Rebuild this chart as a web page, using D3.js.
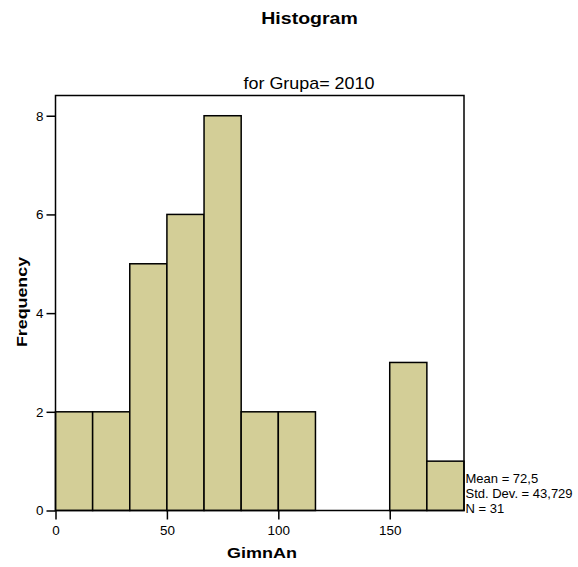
<!DOCTYPE html>
<html>
<head>
<meta charset="utf-8">
<script src="https://cdn.jsdelivr.net/npm/d3@7"></script>
<style>
  html, body { margin: 0; padding: 0; background: #fff; }
  svg { display: block; font-family: "Liberation Sans", Arial, sans-serif; }
</style>
</head>
<body>
<svg id="chart" width="578" height="567"></svg>
<script>
// Histogram of GimnAn for Grupa = 2010
const binEdges = [0, 16.667, 33.333, 50, 66.667, 83.333, 100, 116.667, 133.333, 150, 166.667, 183.333];
const binCounts = [2, 2, 5, 6, 8, 2, 2, 0, 0, 3, 1];
const xTicks = [0, 50, 100, 150];
const yTicks = [0, 2, 4, 6, 8];
const statLines = ["Mean = 72,5", "Std. Dev. = 43,729", "N = 31"];

const bins = binCounts.map((c, i) => ({ x0: binEdges[i], x1: binEdges[i + 1], count: c }));

const svg = d3.select("#chart");
const plot = { left: 55.5, right: 464, top: 95.5, bottom: 510.5 };

const x = d3.scaleLinear().domain([0, binEdges[binEdges.length - 1]]).range([plot.left, plot.right]);
const y = d3.scaleLinear().domain([0, 8.41]).range([plot.bottom, plot.top]);

// stretch text along its reading direction
function stretch(sel, tx, ty, sx, rot) {
  sel.attr("transform", `translate(${tx},${ty})` + (rot ? ` rotate(${rot})` : "") + ` scale(${sx},1)`);
  return sel;
}

// bars
svg.append("g")
  .selectAll("rect")
  .data(bins.filter(b => b.count > 0))
  .join("rect")
  .attr("x", d => x(d.x0))
  .attr("y", d => y(d.count))
  .attr("width", d => x(d.x1) - x(d.x0))
  .attr("height", d => y(0) - y(d.count))
  .attr("fill", "#d3ce97")
  .attr("stroke", "#000")
  .attr("stroke-width", 1.5);

// plot frame
svg.append("rect")
  .attr("x", plot.left).attr("y", plot.top)
  .attr("width", plot.right - plot.left).attr("height", plot.bottom - plot.top)
  .attr("fill", "none").attr("stroke", "#000").attr("stroke-width", 1.5);

// x axis
const xAxis = svg.append("g")
  .attr("transform", `translate(0,${plot.bottom})`)
  .call(d3.axisBottom(x).tickValues(xTicks).tickSize(9).tickSizeOuter(0).tickFormat(d3.format("d")));
xAxis.select(".domain").remove();
xAxis.selectAll(".tick line").attr("stroke", "#000").attr("stroke-width", 1.5);
xAxis.selectAll(".tick text").each(function () {
  const t = d3.select(this);
  t.attr("y", null).attr("dy", null).attr("fill", "#000")
    .style("font-size", "12px").style("font-family", "'Liberation Sans', Arial, sans-serif")
    .attr("text-anchor", "middle");
  stretch(t, 0, 24.5, 1.12);
});

// y axis
const yAxis = svg.append("g")
  .attr("transform", `translate(${plot.left},0)`)
  .call(d3.axisLeft(y).tickValues(yTicks).tickSize(9).tickSizeOuter(0).tickFormat(d3.format("d")));
yAxis.select(".domain").remove();
yAxis.selectAll(".tick line").attr("stroke", "#000").attr("stroke-width", 1.5);
yAxis.selectAll(".tick text").each(function () {
  const t = d3.select(this);
  t.attr("x", null).attr("dy", null).attr("fill", "#000")
    .style("font-size", "12px").style("font-family", "'Liberation Sans', Arial, sans-serif")
    .attr("text-anchor", "end");
  stretch(t, -12, 4.3, 1.12);
});

// titles
stretch(svg.append("text").text("Histogram")
  .attr("text-anchor", "middle").style("font-size", "16px").style("font-weight", "bold"),
  309.5, 24, 1.22);

stretch(svg.append("text").text("for Grupa= 2010")
  .attr("text-anchor", "middle").style("font-size", "16px"),
  309, 89, 1.12);

// axis labels
stretch(svg.append("text").text("GimnAn")
  .attr("text-anchor", "middle").style("font-size", "15px").style("font-weight", "bold"),
  262, 558, 1.2);

stretch(svg.append("text").text("Frequency")
  .attr("text-anchor", "middle").style("font-size", "15px").style("font-weight", "bold"),
  26.5, 302, 1.19, -90);

// summary statistics
svg.append("g").selectAll("text")
  .data(statLines)
  .join("text")
  .attr("x", 465.5)
  .attr("y", (d, i) => 483 + i * 15)
  .style("font-size", "13px")
  .text(d => d);
</script>
</body>
</html>
